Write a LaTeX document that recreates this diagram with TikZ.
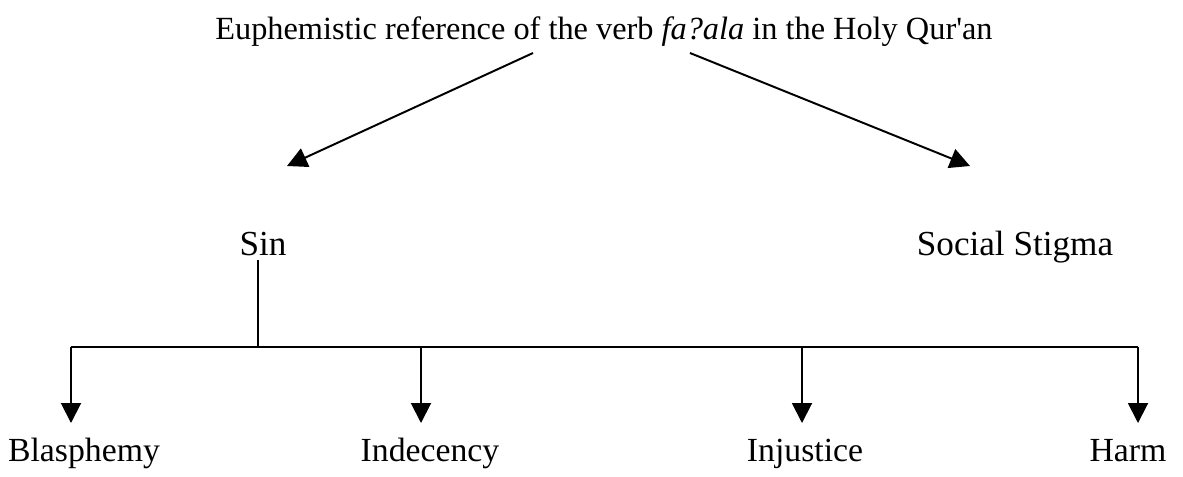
\documentclass[tikz,border=0pt]{standalone}
\usepackage{fontspec}
\setmainfont{Liberation Serif}
\usepackage{tikz}
\usetikzlibrary{arrows.meta}

\begin{document}
\begin{tikzpicture}[x=0.025cm, y=-0.025cm,
    every node/.style={anchor=base, font=\fontsize{24}{29}\selectfont},
    mid/.style={font=\fontsize{25}{30}\selectfont},
    top/.style={font=\fontsize{23}{28}\selectfont},
    flecha/.style={-{Triangle[length=0.5cm, width=0.5cm]}, line width=1.4pt},
    linea/.style={line width=1.4pt}]
            \useasboundingbox (0,0) rectangle (1183,476);
            % Nodos
            \node[top] (title) at (604,39) {Euphemistic reference of the verb \textit{fa?ala} in the Holy Qur\textquotesingle an};
            \node[mid] (sin) at (263,255) {Sin};
            \node[mid] (stigma) at (1015,255) {Social Stigma};
            \node (blas) at (84,461) {Blasphemy};
            \node (inde) at (430,461) {Indecency};
            \node (inju) at (805,461) {Injustice};
            \node (harm) at (1128,461) {Harm};

            % Puntos
            \coordinate (tl) at (533,53);
            \coordinate (tr) at (690,53);
            \coordinate (sinin) at (287,166);
            \coordinate (stgin) at (970,166);
            \coordinate (s0) at (258,347);
            \coordinate (d1) at (71,347);
            \coordinate (d2) at (421,347);
            \coordinate (d3) at (802,347);
            \coordinate (d4) at (1138,347);
            \coordinate (dfin) at (0,423);

            % Aristas
            \draw[flecha] (tl) -- (sinin);
            \draw[flecha] (tr) -- (stgin);
            \draw[linea] (s0 |- sin.south) -- (s0);
            \draw[linea] (d1) -- (d4);
            \draw[flecha] (d1) -- (d1 |- dfin);
            \draw[flecha] (d2) -- (d2 |- dfin);
            \draw[flecha] (d3) -- (d3 |- dfin);
            \draw[flecha] (d4) -- (d4 |- dfin);
          \end{tikzpicture}
\end{document}
